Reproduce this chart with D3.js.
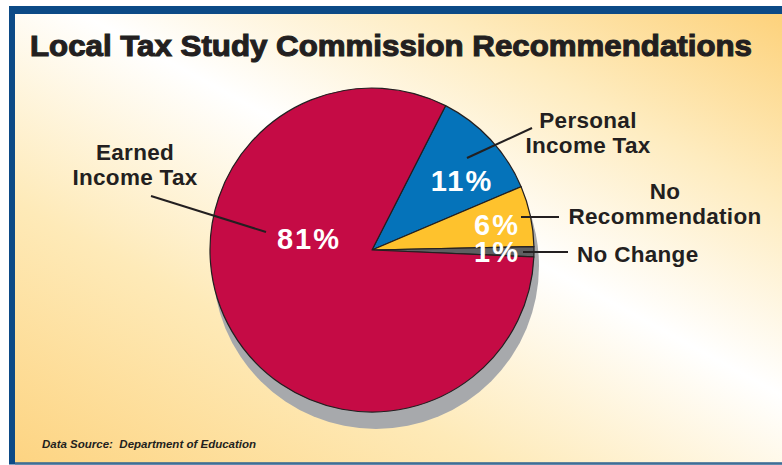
<!DOCTYPE html>
<html><head><meta charset="utf-8">
<script src="https://cdn.jsdelivr.net/npm/d3@7"></script>
<style>html,body{margin:0;padding:0;background:#fff;} svg{display:block;} text{white-space:pre;}</style>
</head><body><svg id="c" width="782" height="465"></svg>
<script>
// ---- data ----
const categories = ["Personal Income Tax", "No Recommendation", "No Change", "Earned Income Tax"];
const values = [11, 6, 1, 81];
const pctLabels = ["11%", "6%", "1%", "81%"];
const colors = ["#0573ba", "#fec22d", "#5e5f61", "#c50b45"];
const title = "Local Tax Study Commission Recommendations";
const source = "Data Source:  Department of Education";

// ---- layout (annotation positions, not data) ----
const cx = 372, cy = 250, R = 162;
const startDeg = 27;
const pctPos = [[462, 191], [497, 235], [497, 262], [309, 249]];
const catLayout = [
  {lines: ["Personal", "Income Tax"], x: 588, y: 128, anchor: "middle", leader: [[467, 158], [532, 128]]},
  {lines: ["No", "Recommendation"], x: 665, y: 199, anchor: "middle", leader: [[521, 217], [559, 217]]},
  {lines: ["No Change"], x: 577, y: 262, anchor: "start", leader: [[523, 252], [568, 252]]},
  {lines: ["Earned", "Income Tax"], x: 135, y: 160, anchor: "middle", leader: [[151, 196], [266, 232]]}
];

const svg = d3.select("#c");
const defs = svg.append("defs");
const g = defs.append("linearGradient").attr("id", "bg")
  .attr("gradientUnits", "userSpaceOnUse")
  .attr("x1", 15).attr("y1", 462).attr("x2", 378).attr("y2", -205);
g.append("stop").attr("offset", 0).attr("stop-color", "#fdd482");
g.append("stop").attr("offset", 0.3).attr("stop-color", "#feeab8");
g.append("stop").attr("offset", 0.56).attr("stop-color", "#ffffff");
g.append("stop").attr("offset", 0.78).attr("stop-color", "#feecc0");
g.append("stop").attr("offset", 1).attr("stop-color", "#fdd27c");

// frame
svg.append("rect").attr("x", 9).attr("y", 6).attr("width", 773).attr("height", 458.5).attr("fill", "#0c4a86");
svg.append("rect").attr("x", 15).attr("y", 14).attr("width", 767).attr("height", 448.5).attr("fill", "url(#bg)");
svg.append("rect").attr("x", 15).attr("y", 462.5).attr("width", 767).attr("height", 2).attr("fill", "#3f6e96");

// title
svg.append("text").attr("x", 30).attr("y", 56)
  .attr("font-family", "Liberation Sans, Arial, sans-serif").attr("font-weight", "bold")
  .attr("font-size", 30).attr("fill", "#231f20")
  .attr("textLength", 722).attr("lengthAdjust", "spacingAndGlyphs")
  .attr("stroke", "#231f20").attr("stroke-width", 1.1)
  .text(title);

// pie
const pie = d3.pie().sort(null).value(d => d)
  .startAngle(startDeg * Math.PI / 180).endAngle(startDeg * Math.PI / 180 + 2 * Math.PI);
const arcs = pie(values);
const arc = d3.arc().innerRadius(0).outerRadius(R);

svg.append("circle").attr("cx", cx + 4).attr("cy", cy + 16).attr("r", R + 1).attr("fill", "#a7a9ac");

const pg = svg.append("g").attr("transform", `translate(${cx},${cy})`);
pg.selectAll("path").data(arcs).join("path")
  .attr("d", arc).attr("fill", (d, i) => colors[i])
  .attr("stroke", "#231f20").attr("stroke-width", 1.2).attr("stroke-linejoin", "round");

// leaders
catLayout.forEach(c => {
  svg.append("line").attr("x1", c.leader[0][0]).attr("y1", c.leader[0][1])
    .attr("x2", c.leader[1][0]).attr("y2", c.leader[1][1])
    .attr("stroke", "#231f20").attr("stroke-width", 2);
});

// percent labels
svg.selectAll("text.pct").data(pctLabels).join("text").attr("class", "pct")
  .attr("x", (d, i) => pctPos[i][0]).attr("y", (d, i) => pctPos[i][1])
  .attr("text-anchor", "middle")
  .attr("font-family", "Liberation Sans, Arial, sans-serif").attr("font-weight", "bold")
  .attr("font-size", 29).attr("letter-spacing", 2).attr("fill", "#ffffff")
  .text(d => d);

// category labels
catLayout.forEach((c, i) => {
  const t = svg.append("text").attr("text-anchor", c.anchor)
    .attr("font-family", "Liberation Sans, Arial, sans-serif").attr("font-weight", "bold")
    .attr("font-size", 22.5).attr("letter-spacing", 0.3).attr("fill", "#231f20");
  c.lines.forEach((l, j) => {
    t.append("tspan").attr("x", c.x).attr("y", c.y + j * 25).text(l);
  });
});

// source
svg.append("text").attr("x", 42).attr("y", 448)
  .attr("font-family", "Liberation Sans, Arial, sans-serif").attr("font-weight", "bold")
  .attr("font-style", "italic").attr("font-size", 11.5).attr("fill", "#231f20")
  .text(source);
</script>
</body></html>
